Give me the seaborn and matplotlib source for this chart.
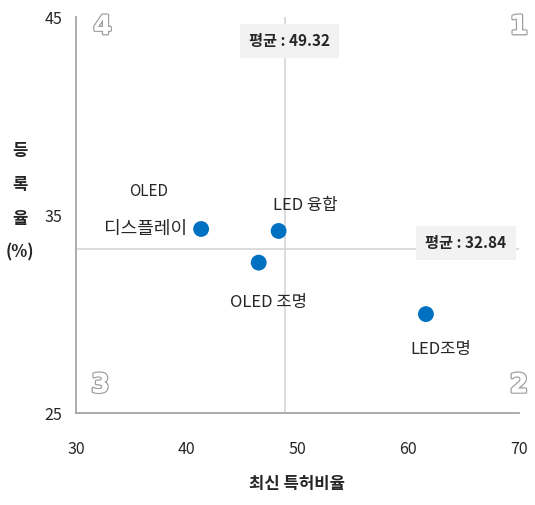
import numpy as np
import pandas as pd
import matplotlib
matplotlib.use('Agg')
import matplotlib.pyplot as plt
import matplotlib.patheffects as pe
import seaborn as sns

# 데이터
names = ['OLED\n디스플레이', 'LED 융합', 'OLED 조명', 'LED조명']
ratio = [41.3, 48.3, 46.5, 61.6]      # 최신 특허비율
reg_rate = [34.3, 34.2, 32.6, 30.0]   # 등록율 (%)
mean_x_label = '평균 : 49.32'
mean_y_label = '평균 : 32.84'
mean_x = 48.9
mean_y = 33.3
x_ticks = [30, 40, 50, 60, 70]
y_ticks = [25, 35, 45]

df = pd.DataFrame({'name': names, 'ratio': ratio, 'reg': reg_rate})

sns.set_style('white')
plt.rcParams['font.family'] = ['Noto Sans CJK KR', 'DejaVu Sans']

fig = plt.figure(figsize=(5.35, 5.05), dpi=100)
ax = fig.add_axes([0.142, 0.182, 0.828, 0.784])

# 평균선
ax.axvline(mean_x, color='#d9d9d9', lw=1.3, zorder=1)
ax.axhline(mean_y, color='#d9d9d9', lw=1.3, zorder=1)

sns.scatterplot(data=df, x='ratio', y='reg', ax=ax, color='#0070c0',
                s=130, edgecolor='none', zorder=3)

ax.set_xlim(30, 70)
ax.set_ylim(25, 45)
ax.set_xticks(x_ticks)
ax.set_yticks(y_ticks)
ax.tick_params(length=0, labelsize=11.5, pad=10)
ax.tick_params(axis='x', pad=20)

for s in ['top', 'right']:
    ax.spines[s].set_visible(False)
for s in ['left', 'bottom']:
    ax.spines[s].set_color('#a6a6a6')
    ax.spines[s].set_linewidth(1.3)

ax.set_xlabel('최신 특허비율', fontsize=12, fontweight='bold', labelpad=12)
ax.set_ylabel('')
fig.text(0.037, 0.60, '등\n\n록\n\n율\n\n(%)', ha='center', va='center',
         fontsize=12, fontweight='bold', linespacing=0.92)

# 점 레이블
ax.text(36.6, 36.2, 'OLED', ha='center', va='center', fontsize=11)
ax.text(40.0, 34.3, '디스플레이', ha='right', va='center', fontsize=13)
ax.text(47.8, 35.5, 'LED 융합', ha='left', va='center', fontsize=12)
ax.text(47.4, 30.6, 'OLED 조명', ha='center', va='center', fontsize=12)
ax.text(62.9, 28.2, 'LED조명', ha='center', va='center', fontsize=12)

# 평균 레이블
box = dict(boxstyle='square,pad=0.6', fc='#f2f2f2', ec='none')
ax.text(49.3, 43.8, mean_x_label, ha='center', va='center', fontsize=11,
        fontweight='bold', bbox=box, zorder=4)
ax.text(65.2, 33.6, mean_y_label, ha='center', va='center', fontsize=11,
        fontweight='bold', bbox=box, zorder=4)

# 사분면 번호
outline = [pe.withStroke(linewidth=2.0, foreground='#a0a0a0'), pe.Normal()]
quad = [('4', 32.4, 44.5), ('1', 70.0, 44.5), ('3', 32.2, 26.4), ('2', 70.0, 26.4)]
for t, qx, qy in quad:
    ax.text(qx, qy, t, ha='center', va='center', fontsize=19, fontweight='bold',
            color='white', path_effects=outline, family='DejaVu Sans')

fig.savefig('out.png', dpi=100)
